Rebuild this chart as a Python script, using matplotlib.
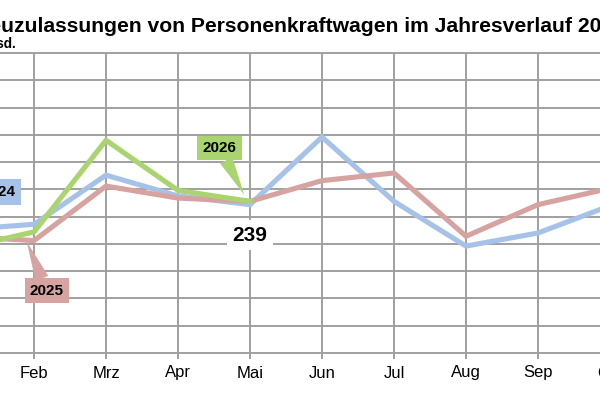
import matplotlib
matplotlib.use('Agg')
import matplotlib.pyplot as plt

plt.rcParams['font.family'] = ['Liberation Sans', 'DejaVu Sans']

# Pkw-Neuzulassungen in Tsd.
months = ['Jan', 'Feb', 'Mrz', 'Apr', 'Mai', 'Jun', 'Jul', 'Aug', 'Sep', 'Okt', 'Nov', 'Dez']
y2024 = [213, 218, 263, 244, 236, 298, 239, 198, 210, 235, 245, 226]
y2025 = [207, 203, 253, 242, 239, 258, 265, 207, 236, 251, 250, 231]
y2026 = [196, 211, 295, 249, 239]

c2024 = '#a7c2e9'
c2025 = '#d6a3a1'
c2026 = '#a9d46f'
grid_col = '#a0a0a0'

fig = plt.figure(figsize=(6, 4), dpi=100)
# Ausschnitt: Achse reicht links und rechts ueber das Bild hinaus
ax = fig.add_axes([-38 / 600, 47 / 400, 792 / 600, 300 / 400])

x = list(range(len(months)))
ax.plot(x, y2024, color=c2024, lw=3.7, solid_joinstyle='miter', zorder=3)
ax.plot(x, y2025, color=c2025, lw=3.7, solid_joinstyle='miter', zorder=3)
ax.plot(x[:len(y2026)], y2026, color=c2026, lw=3.7, solid_joinstyle='miter', zorder=4)

ax.set_xlim(0, 11)
ax.set_ylim(100, 375)
ax.set_xticks(x)
ax.set_xticklabels(months, fontsize=12)
ax.set_yticks(range(100, 376, 25))
ax.grid(True, color=grid_col, lw=1.4, zorder=0)
ax.set_axisbelow(True)
for s in ax.spines.values():
    s.set_color(grid_col)
    s.set_linewidth(1.4)
ax.tick_params(axis='x', length=4, width=1.4, color=grid_col, pad=5)
ax.tick_params(axis='y', length=0, labelsize=12)

# Beschriftungen der Reihen
box_kw = dict(fontsize=11, fontweight='bold', ha='center', va='center', zorder=6)
ax.annotate('2026', xy=(3.92, 245), xytext=(3.58, 288),
            bbox=dict(boxstyle='square,pad=0.35', fc=c2026, ec='none'),
            arrowprops=dict(arrowstyle='wedge,tail_width=0.9', fc=c2026, ec='none',
                            shrinkA=0, shrinkB=0), **box_kw)
ax.annotate('2025', xy=(0.90, 202), xytext=(1.18, 157),
            bbox=dict(boxstyle='square,pad=0.35', fc=c2025, ec='none'),
            arrowprops=dict(arrowstyle='wedge,tail_width=0.9', fc=c2025, ec='none',
                            shrinkA=0, shrinkB=0), **box_kw)
ax.text(0.50, 247.6, '2024', bbox=dict(boxstyle='square,pad=0.38', fc=c2024, ec='none'),
        **box_kw)

ax.text(4, 208, str(y2026[4]), fontsize=15, fontweight='bold', ha='center', va='center',
        bbox=dict(boxstyle='square,pad=0.25', fc='white', ec='none'), zorder=5)

fig.text(-26.5 / 600, 1 - 31.7 / 400,
         'Neuzulassungen von Personenkraftwagen im Jahresverlauf 2024 bis 2026',
         fontsize=15.2, fontweight='bold', ha='left', va='baseline')
fig.text(-10.5 / 600, 1 - 47.7 / 400, 'Tsd.', fontsize=9.8, fontweight='bold',
         ha='left', va='baseline')

fig.savefig('out.png', dpi=100)
